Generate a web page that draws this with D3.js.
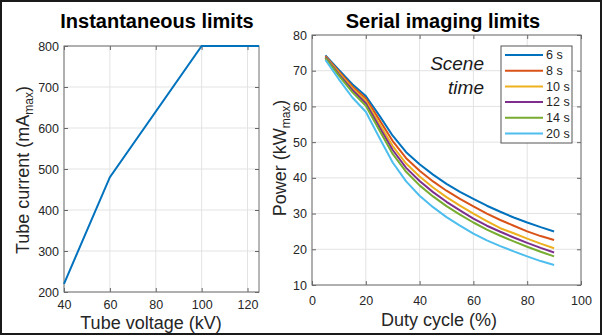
<!DOCTYPE html>
<html>
<head>
<meta charset="utf-8">
<script src="https://cdn.jsdelivr.net/npm/d3@7"></script>
<style>
  body { margin: 0; background: #fff; }
  svg { display: block; font-family: "Liberation Sans", Arial, sans-serif; }
  .grid line { stroke: #e3e3e3; stroke-width: 1; }
  .tick text { fill: #262626; }
</style>
</head>
<body>
<div id="chart"></div>
<script>
// left panel: instantaneous limits
const voltage = [40, 60, 100, 125];
const current = [220, 480, 800, 800];
const voltageTicks = [40, 60, 80, 100, 120];
const currentTicks = [200, 300, 400, 500, 600, 700, 800];

// right panel: serial imaging limits
const dutyCycle = [5, 10, 15, 20, 25, 30, 35, 40, 45, 50, 55, 60, 65, 70, 75, 80, 85, 90];
const sceneTimes = ["6 s", "8 s", "10 s", "12 s", "14 s", "20 s"];
const power6 = [74.3, 70.2, 66.2, 62.9, 57.5, 51.8, 47.2, 43.8, 40.9, 38.3, 36.1, 34.1, 32.2, 30.5, 28.9, 27.5, 26.2, 25.0];
const power8 = [74.1, 69.8, 65.6, 62.2, 56.3, 50.3, 45.5, 42.0, 39.0, 36.4, 34.1, 32.0, 30.0, 28.2, 26.6, 25.0, 23.7, 22.6];
const power10 = [73.9, 69.4, 65.1, 61.5, 55.2, 48.9, 44.0, 40.4, 37.3, 34.6, 32.2, 30.0, 27.9, 25.9, 24.5, 23.0, 21.6, 20.3];
const power12 = [73.7, 69.0, 64.6, 60.9, 54.3, 47.8, 42.8, 39.1, 36.0, 33.3, 30.9, 28.6, 26.6, 24.9, 23.3, 21.8, 20.4, 19.1];
const power14 = [73.5, 68.6, 64.0, 60.2, 53.4, 46.7, 41.7, 37.9, 34.8, 32.1, 29.7, 27.5, 25.5, 23.8, 22.2, 20.7, 19.3, 18.0];
const power20 = [73.0, 67.6, 62.5, 58.5, 51.3, 44.3, 39.0, 35.0, 31.8, 29.0, 26.6, 24.4, 22.5, 20.9, 19.4, 18.0, 16.7, 15.6];
const dutyTicks = [0, 20, 40, 60, 80, 100];
const powerTicks = [10, 20, 30, 40, 50, 60, 70, 80];

const powerSeries = [power6, power8, power10, power12, power14, power20];
const colors = ["#0072BD", "#D95319", "#EDB120", "#7E2F8E", "#77AC30", "#4DBEEE"];

const W = 602, H = 336;
const svg = d3.select("#chart").append("svg")
  .attr("width", W).attr("height", H);

svg.append("rect")
  .attr("x", 1).attr("y", 1).attr("width", W - 2).attr("height", H - 3)
  .attr("fill", "#fff").attr("stroke", "#1a1a1a").attr("stroke-width", 2);

function drawAxes(box, x, y, xt, yt, xPad) {
  const g = svg.append("g");
  // grid
  g.append("g").attr("class", "grid").selectAll("line").data(xt).join("line")
    .attr("x1", d => x(d)).attr("x2", d => x(d)).attr("y1", box.top).attr("y2", box.bottom);
  g.append("g").attr("class", "grid").selectAll("line").data(yt).join("line")
    .attr("y1", d => y(d)).attr("y2", d => y(d)).attr("x1", box.left).attr("x2", box.right);

  const tickLen = 4;
  const fs = "12.5px";
  // x axis (ticks inward)
  g.append("g").attr("transform", `translate(0,${box.bottom})`)
    .call(d3.axisBottom(x).tickValues(xt).tickSize(-tickLen).tickPadding(xPad))
    .call(a => a.select(".domain").remove())
    .call(a => a.selectAll("line").attr("stroke", "#666"))
    .call(a => a.selectAll("text").attr("font-size", fs).attr("font-family", null));
  g.append("g").attr("transform", `translate(0,${box.top})`)
    .call(d3.axisTop(x).tickValues(xt).tickSize(-tickLen).tickFormat(""))
    .call(a => a.select(".domain").remove())
    .call(a => a.selectAll("line").attr("stroke", "#666"));
  // y axis
  g.append("g").attr("transform", `translate(${box.left},0)`)
    .call(d3.axisLeft(y).tickValues(yt).tickSize(-tickLen).tickPadding(5))
    .call(a => a.select(".domain").remove())
    .call(a => a.selectAll("line").attr("stroke", "#666"))
    .call(a => a.selectAll("text").attr("font-size", fs).attr("font-family", null));
  g.append("g").attr("transform", `translate(${box.right},0)`)
    .call(d3.axisRight(y).tickValues(yt).tickSize(-tickLen).tickFormat(""))
    .call(a => a.select(".domain").remove())
    .call(a => a.selectAll("line").attr("stroke", "#666"));

  g.append("rect")
    .attr("x", box.left).attr("y", box.top)
    .attr("width", box.right - box.left).attr("height", box.bottom - box.top)
    .attr("fill", "none").attr("stroke", "#6e6e6e").attr("stroke-width", 1);
  return g;
}

// ---- left panel
const boxL = { left: 64, right: 259, top: 46, bottom: 292 };
const xL = d3.scaleLinear().domain([40, 125]).range([boxL.left, boxL.right]);
const yL = d3.scaleLinear().domain([200, 800]).range([boxL.bottom, boxL.top]);
drawAxes(boxL, xL, yL, voltageTicks, currentTicks, 8);

svg.append("path")
  .datum(voltage.map((v, i) => [v, current[i]]))
  .attr("fill", "none").attr("stroke", colors[0]).attr("stroke-width", 2)
  .attr("d", d3.line().x(d => xL(d[0])).y(d => yL(d[1])));

// ---- right panel
const boxR = { left: 312, right: 581, top: 35, bottom: 285 };
const xR = d3.scaleLinear().domain([0, 100]).range([boxR.left, boxR.right]);
const yR = d3.scaleLinear().domain([10, 80]).range([boxR.bottom, boxR.top]);
drawAxes(boxR, xR, yR, dutyTicks, powerTicks, 11);

const line = d3.line().x(d => xR(d[0])).y(d => yR(d[1]));
powerSeries.forEach((s, i) => {
  svg.append("path")
    .datum(dutyCycle.map((d, j) => [d, s[j]]))
    .attr("fill", "none").attr("stroke", colors[i]).attr("stroke-width", 2)
    .attr("stroke-linejoin", "round")
    .attr("d", line);
});

// legend
const leg = svg.append("g");
leg.append("rect")
  .attr("x", 501).attr("y", 46).attr("width", 71).attr("height", 97)
  .attr("fill", "#fff").attr("stroke", "#555").attr("stroke-width", 1);
sceneTimes.forEach((t, i) => {
  const yy = 55 + i * 15.7;
  leg.append("line").attr("x1", 505).attr("x2", 543).attr("y1", yy).attr("y2", yy)
    .attr("stroke", colors[i]).attr("stroke-width", 2);
  leg.append("text").attr("x", 546).attr("y", yy).attr("dy", "0.35em")
    .attr("font-size", "12.5px").attr("fill", "#262626").text(t);
});

svg.append("text").attr("x", 484).attr("y", 70).attr("text-anchor", "end")
  .attr("font-size", "19px").attr("font-style", "italic").attr("fill", "#1a1a1a").text("Scene");
svg.append("text").attr("x", 484).attr("y", 94).attr("text-anchor", "end")
  .attr("font-size", "19px").attr("font-style", "italic").attr("fill", "#1a1a1a").text("time");

// titles
svg.append("text").attr("x", 157).attr("y", 28).attr("text-anchor", "middle")
  .attr("font-size", "20px").attr("font-weight", "bold").attr("fill", "#000").text("Instantaneous limits");
svg.append("text").attr("x", 443).attr("y", 28).attr("text-anchor", "middle")
  .attr("font-size", "20px").attr("font-weight", "bold").attr("fill", "#000").text("Serial imaging limits");

// axis labels
svg.append("text").attr("x", 151).attr("y", 329).attr("text-anchor", "middle")
  .attr("font-size", "18px").attr("fill", "#262626").text("Tube voltage (kV)");
svg.append("text").attr("x", 439).attr("y", 326).attr("text-anchor", "middle")
  .attr("font-size", "18px").attr("fill", "#262626").text("Duty cycle (%)");

const yl1 = svg.append("text")
  .attr("transform", "translate(29,170) rotate(-90)")
  .attr("text-anchor", "middle").attr("font-size", "18px").attr("fill", "#262626");
yl1.append("tspan").text("Tube current (mA");
yl1.append("tspan").attr("font-size", "12px").attr("dy", 4).text("max");
yl1.append("tspan").attr("dy", -4).text(")");

const yl2 = svg.append("text")
  .attr("transform", "translate(286,158) rotate(-90)")
  .attr("text-anchor", "middle").attr("font-size", "18px").attr("fill", "#262626");
yl2.append("tspan").text("Power (kW");
yl2.append("tspan").attr("font-size", "12px").attr("dy", 4).text("max");
yl2.append("tspan").attr("dy", -4).text(")");
</script>
</body>
</html>
